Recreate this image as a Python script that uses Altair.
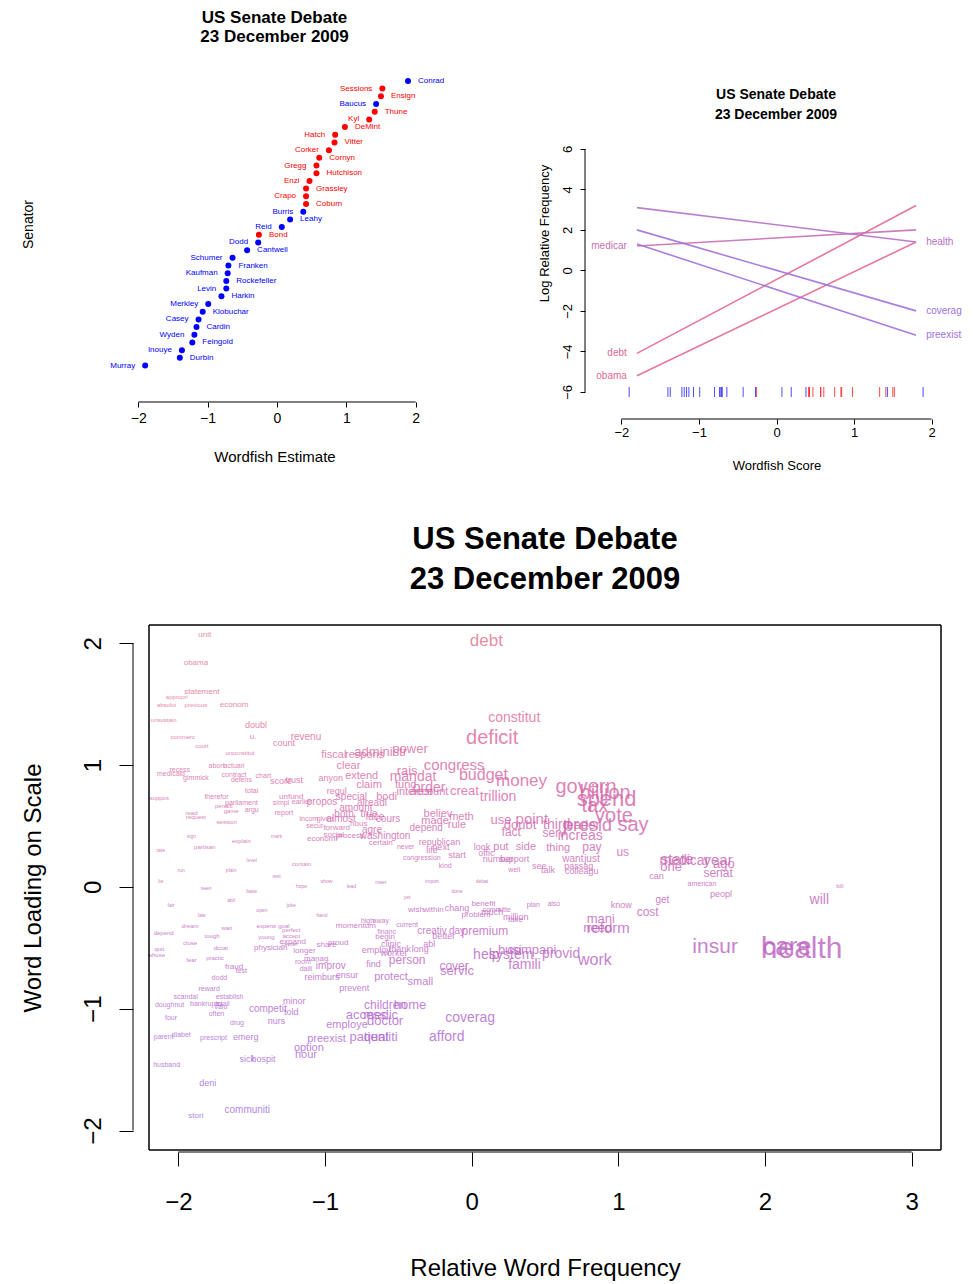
import pandas as pd
import altair as alt

FONT = "Liberation Sans"

# --- senators (Wordfish estimates) ---
senators = ["Conrad", "Sessions", "Ensign", "Baucus", "Thune", "Kyl", "DeMint", "Hatch", "Vitter",
            "Corker", "Cornyn", "Gregg", "Hutchison", "Enzi", "Grassley", "Crapo", "Coburn", "Burris",
            "Leahy", "Reid", "Bond", "Dodd", "Cantwell", "Schumer", "Franken", "Kaufman", "Rockefeller",
            "Levin", "Harkin", "Merkley", "Klobuchar", "Casey", "Cardin", "Wyden", "Feingold", "Inouye",
            "Durbin", "Murray"]
estimates = [1.89, 1.52, 1.50, 1.43, 1.41, 1.33, 0.98, 0.84, 0.83, 0.75, 0.61, 0.57, 0.57, 0.47,
             0.42, 0.42, 0.42, 0.38, 0.19, 0.07, -0.26, -0.27, -0.43, -0.64, -0.70, -0.71, -0.73,
             -0.73, -0.80, -0.99, -1.07, -1.13, -1.16, -1.19, -1.22, -1.37, -1.40, -1.90]
republicans = ["Sessions", "Ensign", "Thune", "Kyl", "DeMint", "Hatch", "Vitter", "Corker", "Cornyn",
               "Gregg", "Hutchison", "Enzi", "Grassley", "Crapo", "Coburn", "Bond"]

# --- word lines (log relative frequency at the two ends) ---
line_words = ["debt", "obama", "medicar", "health", "coverag", "preexist"]
line_left = [-4.1, -5.2, 1.2, 3.1, 2.0, 1.3]
line_right = [3.2, 1.4, 2.0, 1.4, -2.0, -3.2]
label_side = ["left", "left", "left", "right", "right", "right"]
line_colors = ["#e2698f", "#e2698f", "#c670b4", "#b56fca", "#a070de", "#a070de"]

# --- word cloud: (word, relative frequency, loading, font size) ---
large_words = [
    ("health", 2.25, -0.51, 30), ("care", 2.15, -0.49, 25), ("insur", 1.66, -0.49, 21),
    ("spend", 0.92, 0.72, 22), ("govern", 0.78, 0.82, 20), ("billion", 0.91, 0.77, 20),
    ("tax", 0.84, 0.66, 20), ("vote", 0.97, 0.58, 20), ("say", 1.10, 0.51, 20),
    ("presid", 0.79, 0.50, 18), ("deficit", 0.14, 1.22, 20), ("debt", 0.10, 2.02, 17),
    ("money", 0.34, 0.87, 17), ("budget", 0.08, 0.92, 16), ("work", 0.84, -0.60, 16),
    ("congress", -0.12, 1.00, 15), ("reform", 0.93, -0.34, 15), ("state", 1.40, 0.23, 15),
    ("year", 1.68, 0.22, 15), ("point", 0.41, 0.56, 15), ("constitut", 0.29, 1.39, 14),
    ("medicar", 1.45, 0.21, 14), ("will", 2.37, -0.11, 14), ("coverag", -0.01, -1.08, 14),
    ("afford", -0.17, -1.23, 14), ("trillion", 0.18, 0.74, 14), ("order", -0.29, 0.81, 14),
    ("mandat", -0.40, 0.90, 14), ("third", 0.58, 0.51, 14), ("increas", 0.74, 0.42, 14),
    ("famili", 0.36, -0.64, 14), ("system", 0.27, -0.56, 14), ("help", 0.10, -0.56, 14),
    ("provid", 0.61, -0.55, 14),
]
mid_words = [
    ("one", 1.36, 0.16, 13), ("ago", 1.72, 0.19, 13), ("senat", 1.68, 0.11, 12), ("us", 1.03, 0.29, 12),
    ("cost", 1.20, -0.21, 12), ("mani", 0.88, -0.26, 13), ("need", 0.86, -0.34, 13),
    ("compani", 0.41, -0.52, 13), ("busi", 0.26, -0.52, 13), ("servic", -0.10, -0.69, 13),
    ("cover", -0.12, -0.65, 12), ("person", -0.44, -0.60, 12), ("protect", -0.55, -0.74, 11),
    ("small", -0.35, -0.78, 11), ("premium", 0.09, -0.36, 12), ("children", -0.59, -0.97, 12),
    ("home", -0.42, -0.97, 13), ("access", -0.72, -1.05, 13), ("medic", -0.62, -1.05, 13),
    ("doctor", -0.59, -1.10, 13), ("employe", -0.85, -1.13, 11), ("patient", -0.70, -1.23, 13),
    ("qualiti", -0.62, -1.23, 13), ("preexist", -0.99, -1.25, 11), ("option", -1.11, -1.32, 11),
    ("hour", -1.13, -1.38, 11), ("administr", -0.62, 1.11, 13), ("power", -0.42, 1.13, 13),
    ("rais", -0.44, 0.95, 13), ("creat", -0.05, 0.79, 13), ("use", 0.20, 0.55, 13),
    ("doubt", 0.33, 0.51, 13), ("leader", 0.75, 0.51, 13), ("fact", 0.27, 0.45, 12),
    ("serv", 0.56, 0.44, 12), ("pay", 0.82, 0.33, 12), ("thing", 0.59, 0.32, 11),
    ("put", 0.20, 0.33, 11), ("side", 0.37, 0.33, 11), ("fiscal", -0.94, 1.08, 11),
    ("respons", -0.73, 1.08, 11), ("clear", -0.84, 0.99, 11), ("extend", -0.75, 0.91, 11),
    ("claim", -0.70, 0.84, 11), ("fund", -0.45, 0.84, 11), ("interest", -0.39, 0.78, 11),
    ("account", -0.29, 0.78, 11), ("bodi", -0.58, 0.74, 11), ("believ", -0.23, 0.60, 11),
    ("meth", -0.07, 0.57, 11), ("made", -0.25, 0.54, 11), ("rule", -0.10, 0.51, 11),
    ("revenu", -1.13, 1.23, 10), ("special", -0.82, 0.74, 10), ("alreadi", -0.68, 0.69, 10),
    ("amount", -0.79, 0.65, 10), ("both", -0.87, 0.60, 10), ("true", -0.70, 0.60, 10),
    ("almost", -0.89, 0.56, 10), ("face", -0.66, 0.57, 10), ("cours", -0.57, 0.56, 10),
    ("propos", -1.02, 0.70, 10), ("want", 0.69, 0.23, 10), ("just", 0.82, 0.23, 10),
    ("get", 1.30, -0.11, 10), ("day", -0.10, -0.36, 10), ("creativ", -0.27, -0.36, 10),
    ("improv", -0.96, -0.65, 10), ("competit", -1.39, -1.00, 10), ("communiti", -1.53, -1.83, 10),
    ("depend", -0.31, 0.48, 10), ("washington", -0.59, 0.42, 10), ("agre", -0.68, 0.47, 10),
]
small_words = [
    ("unit", -1.82, 2.07, 8), ("obama", -1.88, 1.84, 8), ("statement", -1.84, 1.60, 8),
    ("appropri", -2.01, 1.56, 6), ("absolut", -2.08, 1.49, 6), ("previous", -1.88, 1.49, 6),
    ("econom", -1.62, 1.49, 8), ("unsustain", -2.10, 1.37, 6), ("doubl", -1.47, 1.33, 9),
    ("commerc", -1.97, 1.23, 6), ("u.", -1.49, 1.23, 8), ("court", -1.84, 1.16, 6),
    ("count", -1.28, 1.18, 9), ("unconstitut", -1.58, 1.10, 6), ("regul", -0.92, 0.79, 9),
    ("anyon", -0.96, 0.89, 9), ("hous", -0.77, 0.52, 8), ("certain", -0.62, 0.36, 8),
    ("number", 0.18, 0.23, 9), ("support", 0.29, 0.23, 9), ("see", 0.46, 0.17, 9),
    ("talk", 0.52, 0.14, 9), ("colleagu", 0.75, 0.13, 9), ("passag", 0.73, 0.17, 9),
    ("look", 0.07, 0.33, 9), ("next", -0.21, 0.33, 9), ("life", -0.27, 0.30, 9),
    ("start", -0.10, 0.26, 9), ("offic", 0.10, 0.28, 9), ("republican", -0.22, 0.37, 9),
    ("well", 0.29, 0.14, 7), ("never", -0.45, 0.33, 7), ("congression", -0.34, 0.24, 7),
    ("kind", -0.18, 0.17, 7), ("can", 1.26, 0.09, 9), ("american", 1.57, 0.02, 7),
    ("peopl", 1.70, -0.06, 9), ("bill", 2.51, 0.01, 6), ("know", 1.02, -0.15, 9),
    ("better", -0.19, -0.40, 9), ("begin", -0.59, -0.41, 8), ("clinic", -0.55, -0.47, 9),
    ("thank", -0.49, -0.51, 9), ("long", -0.35, -0.51, 9), ("abl", -0.29, -0.47, 9),
    ("employ", -0.65, -0.52, 9), ("worker", -0.53, -0.54, 9), ("find", -0.67, -0.63, 9),
    ("ensur", -0.85, -0.72, 9), ("reimburs", -1.02, -0.74, 9), ("daili", -1.13, -0.67, 7),
    ("room", -1.15, -0.62, 7), ("prevent", -0.80, -0.83, 9), ("expand", -1.22, -0.45, 8),
    ("longer", -1.14, -0.53, 8), ("manag", -1.06, -0.59, 8), ("share", -0.99, -0.48, 8),
    ("proud", -0.91, -0.46, 8), ("sick", -1.53, -1.41, 9), ("hospit", -1.42, -1.41, 9),
    ("minor", -1.21, -0.94, 9), ("told", -1.23, -1.03, 9), ("nurs", -1.33, -1.10, 9),
    ("emerg", -1.54, -1.23, 9), ("drug", -1.60, -1.12, 7), ("deni", -1.80, -1.61, 9),
    ("stori", -1.88, -1.88, 8), ("husband", -2.08, -1.46, 7), ("reward", -1.79, -0.84, 7),
    ("establish", -1.65, -0.90, 7), ("scandal", -1.95, -0.90, 7), ("bankruptci", -1.81, -0.96, 7),
    ("doughnut", -2.06, -0.97, 7), ("avail", -1.70, -0.96, 7), ("four", -2.05, -1.08, 7),
    ("diabet", -1.98, -1.22, 7), ("parent", -2.10, -1.23, 7), ("prescript", -1.76, -1.24, 7),
    ("often", -1.74, -1.04, 7), ("valu", -1.71, -0.99, 7), ("dodd", -1.72, -0.75, 7),
    ("fraud", -1.62, -0.66, 8), ("test", -1.57, -0.69, 7), ("practic", -1.75, -0.58, 6),
    ("fear", -1.91, -0.60, 6), ("whose", -2.15, -0.56, 6), ("quit", -2.13, -0.51, 6),
    ("dream", -1.92, -0.32, 6), ("depend", -2.10, -0.38, 6), ("close", -1.92, -0.46, 6),
    ("dictat", -1.71, -0.50, 6), ("physician", -1.37, -0.50, 8), ("tough", -1.77, -0.40, 6),
    ("accept", -1.23, -0.40, 6), ("young", -1.40, -0.41, 6), ("expens", -1.40, -0.32, 6),
    ("goal", -1.28, -0.32, 6), ("perfect", -1.23, -0.35, 6), ("center", -1.24, -0.47, 6),
    ("wait", -1.67, -0.34, 6), ("gimmick", -1.88, 0.89, 7), ("abort", -1.74, 0.99, 7),
    ("actuari", -1.62, 0.99, 7), ("recess", -1.99, 0.96, 7), ("medicaid", -2.05, 0.93, 7),
    ("contract", -1.62, 0.92, 7), ("defens", -1.57, 0.88, 7), ("trust", -1.21, 0.88, 9),
    ("score", -1.30, 0.87, 9), ("chart", -1.42, 0.91, 7), ("therefor", -1.74, 0.74, 7),
    ("suppos", -2.13, 0.73, 6), ("total", -1.50, 0.79, 7), ("parliament", -1.57, 0.69, 7),
    ("unfund", -1.23, 0.74, 8), ("simpl", -1.30, 0.69, 7), ("earlier", -1.16, 0.70, 7),
    ("report", -1.28, 0.61, 7), ("argu", -1.50, 0.63, 7), ("game", -1.64, 0.62, 6),
    ("read", -1.91, 0.61, 6), ("penalti", -1.69, 0.66, 6), ("incom", -1.11, 0.56, 7),
    ("given", -1.00, 0.56, 7), ("secur", -1.07, 0.50, 7), ("request", -1.88, 0.57, 6),
    ("session", -1.67, 0.53, 6), ("explain", -1.57, 0.38, 6), ("partisan", -1.82, 0.33, 6),
    ("contain", -1.16, 0.19, 6), ("forward", -0.92, 0.48, 8), ("economi", -1.02, 0.39, 8),
    ("social", -0.94, 0.43, 8), ("process", -0.83, 0.42, 8), ("problem", 0.03, -0.23, 8),
    ("much", 0.14, -0.21, 9), ("million", 0.30, -0.25, 9), ("take", 0.30, -0.27, 8),
    ("chang", -0.10, -0.17, 9), ("within", -0.26, -0.19, 8), ("wish", -0.38, -0.19, 8),
    ("plan", 0.42, -0.15, 7), ("also", 0.56, -0.14, 7), ("benefit", 0.08, -0.14, 8),
    ("committe", 0.17, -0.19, 7), ("away", -0.62, -0.28, 7), ("high", -0.71, -0.28, 7),
    ("momentum", -0.79, -0.32, 8), ("financ", -0.58, -0.37, 7), ("current", -0.44, -0.31, 7),
    ("rate", -2.12, 0.30, 5), ("sign", -1.91, 0.42, 5), ("level", -1.50, 0.22, 5),
    ("mark", -1.33, 0.42, 5), ("run", -1.98, 0.14, 5), ("plain", -1.64, 0.14, 5),
    ("rest", -1.33, 0.09, 5), ("show", -0.99, 0.05, 5), ("meet", -0.62, 0.04, 5),
    ("import", -0.27, 0.05, 5), ("debat", 0.07, 0.05, 5), ("lie", -2.12, 0.05, 5),
    ("seen", -1.81, -0.01, 5), ("base", -1.50, -0.03, 5), ("hope", -1.16, 0.01, 5),
    ("yet", -0.44, -0.08, 5), ("done", -0.10, -0.03, 5), ("fair", -2.05, -0.15, 5),
    ("late", -1.84, -0.23, 5), ("abil", -1.64, -0.11, 5), ("open", -1.43, -0.19, 5),
    ("joke", -1.23, -0.15, 5), ("hand", -1.02, -0.23, 5), ("lead", -0.82, 0.01, 5),
]

AX = dict(grid=False, domain=False, tickColor="black", labelColor="black", titleColor="black",
          titleFontWeight="normal", format="d")
one_row = pd.DataFrame({"t": ["."]})
NOVIEW = alt.ViewBackground(stroke="transparent")


def axis_rule(width=1, **enc):
    # R-style axis line / frame piece
    return alt.Chart(one_row).mark_rule(color="black", strokeWidth=width).encode(**enc)


# --- top left: senator dot plot ---
sen = pd.DataFrame({"senator": senators, "est": estimates})
sen["rank"] = range(1, len(senators) + 1)
sen["col"] = ["#ff0000" if s in republicans else "#0000ff" for s in senators]
sen["side"] = ["right" if i % 2 == 0 else "left" for i in range(len(senators))]

lx = alt.Scale(domain=[-2.45, 2.38], nice=False)
xs = alt.X("est:Q", scale=lx,
           axis=alt.Axis(values=[-2, -1, 0, 1, 2], title="Wordfish Estimate", offset=18,
                         labelFontSize=14, titleFontSize=15, titlePadding=24, labelPadding=4, **AX))
ys = alt.Y("rank:Q", scale=alt.Scale(domain=[-1.2, 40.4], nice=False, reverse=True),
           axis=alt.Axis(title="Senator", ticks=False, labels=False, domain=False, grid=False,
                         titleFontSize=14, titleFontWeight="normal", titleColor="black",
                         titlePadding=72))
dots_base = alt.Chart(sen).encode(x=xs, y=ys, color=alt.Color("col:N", scale=None))
dots = dots_base.mark_circle(size=36, opacity=1)
lab_r = dots_base.transform_filter("datum.side == 'right'").mark_text(
    align="left", dx=10, fontSize=8, font=FONT).encode(text="senator:N")
lab_l = dots_base.transform_filter("datum.side == 'left'").mark_text(
    align="right", dx=-10, fontSize=8, font=FONT).encode(text="senator:N")
lrule = axis_rule(x=alt.datum(-2), x2=alt.datum(2), y=alt.value(338))
left = alt.layer(dots, lab_r, lab_l, lrule).properties(
    width=335, height=320, view=NOVIEW,
    title=alt.TitleParams(["US Senate Debate", "23 December 2009"], fontSize=17, font=FONT,
                          fontWeight="bold", anchor="middle", offset=18, color="black"))

# --- top right: word lines with rug ---
seg = pd.DataFrame({"word": line_words, "x1": -1.8, "x2": 1.8, "y1": line_left, "y2": line_right,
                    "side": label_side, "col": line_colors})
seg["lx"] = [-1.93 if s == "left" else 1.93 for s in label_side]
seg["ly"] = [a if s == "left" else b for a, b, s in zip(line_left, line_right, label_side)]
RH = 338
rx = alt.Scale(domain=[-2.16, 2.16], nice=False)
ry = alt.Scale(domain=[-6.5, -6.5 + RH / 20.25], nice=False)
rx_axis = alt.Axis(values=[-2, -1, 0, 1, 2], title="Wordfish Score", offset=17, labelFontSize=13,
                   titleFontSize=13, titlePadding=20, **AX)
ry_axis = alt.Axis(values=[-6, -4, -2, 0, 2, 4, 6], title="Log Relative Frequency", offset=24,
                   labelFontSize=13, titleFontSize=13, labelAngle=-90, labelAlign="center",
                   labelBaseline="bottom", labelPadding=6, titlePadding=10, **AX)
lines = alt.Chart(seg).mark_rule(strokeWidth=1.6, opacity=0.9).encode(
    x=alt.X("x1:Q", scale=rx, axis=rx_axis), x2="x2:Q",
    y=alt.Y("y1:Q", scale=ry, axis=ry_axis), y2="y2:Q",
    color=alt.Color("col:N", scale=None))
llab = alt.Chart(seg).transform_filter("datum.side == 'left'").mark_text(
    align="right", fontSize=10, font=FONT).encode(
    x="lx:Q", y="ly:Q", text="word:N", color=alt.Color("col:N", scale=None))
rlab = alt.Chart(seg).transform_filter("datum.side == 'right'").mark_text(
    align="left", fontSize=10, font=FONT).encode(
    x="lx:Q", y="ly:Q", text="word:N", color=alt.Color("col:N", scale=None))
rug = alt.Chart(sen).mark_tick(orient="vertical", size=10, thickness=1, opacity=0.7).encode(
    x="est:Q", y=alt.datum(-6), color=alt.Color("col:N", scale=None))
rtitle1 = alt.Chart(one_row).mark_text(fontSize=14, fontWeight="bold", font=FONT, color="black",
                                       text="US Senate Debate").encode(x=alt.value(167), y=alt.value(31))
rtitle2 = alt.Chart(one_row).mark_text(fontSize=14, fontWeight="bold", font=FONT, color="black",
                                       text="23 December 2009").encode(x=alt.value(167), y=alt.value(51))
rxrule = axis_rule(x=alt.datum(-2), x2=alt.datum(2), y=alt.value(RH + 17))
ryrule = axis_rule(x=alt.value(-24), y=alt.datum(-6), y2=alt.datum(6))
right = alt.layer(lines, llab, rlab, rug, rtitle1, rtitle2, rxrule, ryrule).properties(
    width=335, height=RH, view=NOVIEW)

# --- bottom: word cloud (box drawn with rules, 42px in from the plot origin) ---
cloud = pd.DataFrame(small_words + mid_words + large_words, columns=["word", "x", "y", "size"])
BW, BH, BOX = 834, 525, 42
bx = alt.Scale(domain=[-2.2 - BOX * 5.4 / (BW - BOX), 3.2], nice=False)
by = alt.Scale(domain=[-2.16, 2.15], nice=False)
words = alt.Chart(cloud).mark_text(font=FONT, opacity=0.8).encode(
    x=alt.X("x:Q", scale=bx,
            axis=alt.Axis(values=[-2, -1, 0, 1, 2, 3], title="Relative Word Frequency", offset=2,
                          tickSize=14, labelFontSize=24, titleFontSize=24, labelPadding=24,
                          titlePadding=42, titleX=BOX + (BW - BOX) / 2, **AX)),
    y=alt.Y("y:Q", scale=by,
            axis=alt.Axis(values=[-2, -1, 0, 1, 2], title="Word Loading on Scale", offset=-(BOX - 16),
                          tickSize=14, labelFontSize=24, titleFontSize=24, labelAngle=-90,
                          labelAlign="center", labelBaseline="bottom", labelPadding=14,
                          titlePadding=36, **AX)),
    text="word:N",
    size=alt.Size("size:Q", scale=None, legend=None),
    color=alt.Color("y:Q", scale=alt.Scale(domain=[-2, 0, 2], range=["#9a6be0", "#c262b6", "#e4738f"]),
                    legend=None),
)
frame = [
    axis_rule(1.5, x=alt.value(BOX), x2=alt.value(BW), y=alt.value(0)),
    axis_rule(1.5, x=alt.value(BOX), x2=alt.value(BW), y=alt.value(BH)),
    axis_rule(1.5, x=alt.value(BOX), y=alt.value(0), y2=alt.value(BH)),
    axis_rule(1.5, x=alt.value(BW), y=alt.value(0), y2=alt.value(BH)),
]
bxrule = axis_rule(x=alt.datum(-2), x2=alt.datum(3), y=alt.value(BH + 2))
byrule = axis_rule(x=alt.value(BOX - 16), y=alt.datum(-2), y2=alt.datum(2))
bottom = alt.layer(words, bxrule, byrule, *frame).properties(
    width=BW, height=BH, view=NOVIEW,
    title=alt.TitleParams(["US Senate Debate", "23 December 2009"], fontSize=31, font=FONT,
                          fontWeight="bold", anchor="middle", offset=28, lineHeight=40,
                          color="black", dx=BOX / 2))

top = alt.hconcat(left, right, spacing=92)
chart = alt.vconcat(top, bottom, spacing=50).properties(
    padding={"left": 12, "top": 0, "right": 0, "bottom": 0}
).configure(font=FONT).configure_view(stroke="transparent").configure_axis(
    labelFont=FONT, titleFont=FONT)

chart.save("out.html", embed_options={"renderer": "svg", "actions": False})
